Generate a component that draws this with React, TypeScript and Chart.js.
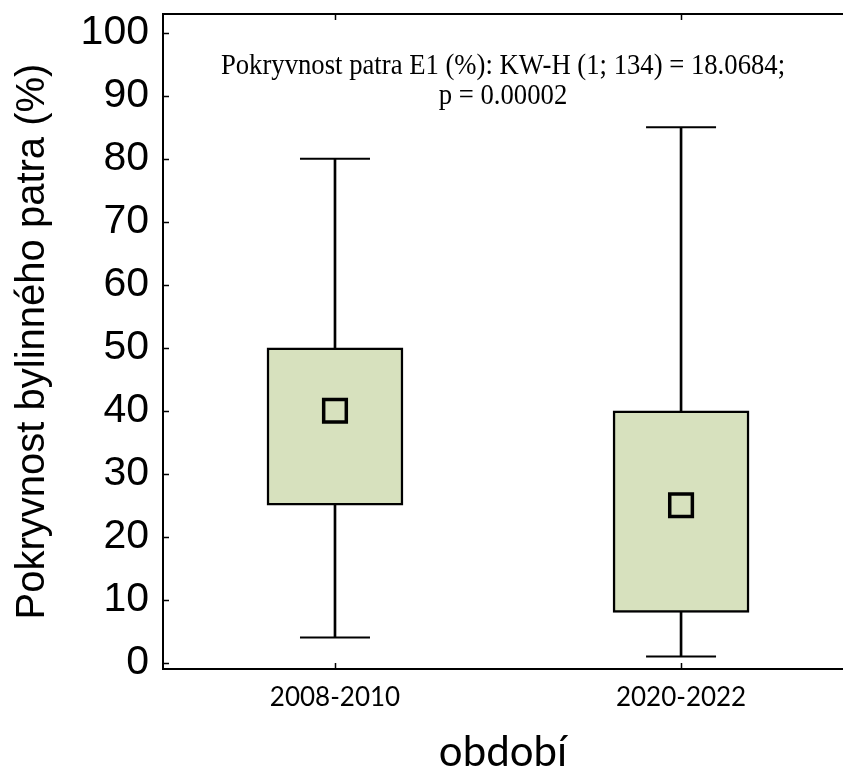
import React, { useEffect, useRef } from 'react';
import { Chart, registerables } from 'chart.js';

Chart.register(...registerables);

// ---- data ----
const categories = ['2008-2010', '2020-2022'];
const positions = [1, 2];
const boxLow = [25, 8];
const boxHigh = [50, 40];
const whiskerMin = [4, 1];
const whiskerMax = [80, 85];
const centerValue = [40, 25];
const yTicks = [0, 10, 20, 30, 40, 50, 60, 70, 80, 90, 100];
const annotationLines = [
  'Pokryvnost patra E1 (%): KW-H (1; 134) = 18.0684;',
  'p = 0.00002',
];
const yTitle = 'Pokryvnost bylinného patra (%)';
const xTitle = 'období';

const BOX_FILL = 'rgb(215, 225, 190)';

const framePlugin = {
  id: 'framePlugin',
  afterDraw(chart: any) {
    const { ctx, chartArea, scales } = chart;
    const xs = scales.x;
    const ys = scales.y;
    ctx.save();
    ctx.strokeStyle = '#000';
    ctx.lineWidth = 2;
    ctx.beginPath();
    ctx.moveTo(chartArea.left, chartArea.top);
    ctx.lineTo(chartArea.right, chartArea.top);
    ctx.stroke();
    ctx.lineWidth = 1.5;
    ctx.beginPath();
    ys.ticks.forEach((t: any) => {
      const y = Math.round(ys.getPixelForValue(t.value)) + 0.5;
      ctx.moveTo(chartArea.left, y);
      ctx.lineTo(chartArea.left + 6, y);
    });
    xs.ticks.forEach((t: any) => {
      const x = Math.round(xs.getPixelForValue(t.value)) + 0.5;
      ctx.moveTo(x, chartArea.bottom);
      ctx.lineTo(x, chartArea.bottom - 6);
      ctx.moveTo(x, chartArea.top);
      ctx.lineTo(x, chartArea.top + 6);
    });
    ctx.stroke();

    // annotation text
    const cx = (chartArea.left + chartArea.right) / 2;
    ctx.fillStyle = '#000';
    ctx.textAlign = 'center';
    ctx.textBaseline = 'middle';
    ctx.font = '29px "Liberation Serif", "Times New Roman", serif';
    const sx = 0.92;
    annotationLines.forEach((line, i) => {
      ctx.save();
      ctx.translate(cx, chartArea.top + 52 + i * 30);
      ctx.scale(sx, 1);
      ctx.fillText(line, 0, 0);
      ctx.restore();
    });
    ctx.restore();
  },
};

export default function App() {
  const canvasRef = useRef<HTMLCanvasElement | null>(null);

  useEffect(() => {
    const canvas = canvasRef.current;
    if (!canvas) return;

    const chart = new Chart(canvas, {
      type: 'bar',
      data: {
        datasets: [
          {
            type: 'line',
            label: 'center',
            data: positions.map((p, i) => ({ x: p, y: centerValue[i] })),
            showLine: false,
            pointStyle: 'rect',
            pointRadius: 16,
            pointHoverRadius: 16,
            pointBorderWidth: 3.5,
            pointBorderColor: '#000',
            pointBackgroundColor: BOX_FILL,
            order: 0,
          } as any,
          {
            type: 'bar',
            label: 'box',
            data: positions.map((p, i) => ({ x: p, y: [boxLow[i], boxHigh[i]] })),
            backgroundColor: BOX_FILL,
            borderColor: '#000',
            borderWidth: 2.5,
            borderSkipped: false,
            barThickness: 136,
            grouped: false,
            order: 1,
          } as any,
          {
            type: 'bar',
            label: 'whisker',
            data: positions.map((p, i) => ({ x: p, y: [whiskerMin[i], whiskerMax[i]] })),
            backgroundColor: '#000',
            borderWidth: 0,
            barThickness: 2,
            grouped: false,
            order: 2,
          } as any,
          {
            type: 'line',
            label: 'caps',
            data: positions.flatMap((p, i) => [
              { x: p, y: whiskerMin[i] },
              { x: p, y: whiskerMax[i] },
            ]),
            showLine: false,
            pointStyle: 'line',
            pointRadius: 35,
            pointHoverRadius: 35,
            pointBorderWidth: 2,
            pointBorderColor: '#000',
            order: 2,
          } as any,
        ],
      },
      options: {
        animation: false,
        responsive: true,
        maintainAspectRatio: false,
        layout: { autoPadding: false, padding: { top: 14, right: 0, left: 0, bottom: 0 } },
        plugins: {
          legend: { display: false },
          tooltip: { enabled: false },
        },
        scales: {
          x: {
            type: 'linear',
            offset: false,
            min: 0.503,
            max: 2.468,
            afterBuildTicks: (s: any) => {
              s.ticks = positions.map((v) => ({ value: v }));
            },
            afterFit: (s: any) => {
              s.height = 102;
              s.paddingLeft = 0;
              s.paddingRight = 0;
            },
            ticks: {
              callback: (_v: any, i: number) => categories[i],
              font: { family: 'Lato', size: 26 },
              color: '#000',
              padding: 13,
              maxRotation: 0,
            },
            grid: { display: true, offset: false, drawOnChartArea: false, drawTicks: false },
            border: { display: true, color: '#000', width: 2 },
            title: {
              display: true,
              text: xTitle,
              font: { family: 'Lato', size: 42, lineHeight: 0.9 },
              color: '#000',
              padding: 0,
            },
          },
          y: {
            type: 'linear',
            min: -1,
            max: 103,
            afterBuildTicks: (s: any) => {
              s.ticks = yTicks.map((v) => ({ value: v }));
            },
            afterFit: (s: any) => {
              s.width = 163;
              s.paddingTop = 0;
              s.paddingBottom = 0;
            },
            ticks: {
              font: { family: 'Liberation Sans', size: 41 },
              color: '#000',
              padding: 14,
            },
            grid: { display: true, drawOnChartArea: false, drawTicks: false },
            border: { display: true, color: '#000', width: 2 },
            title: {
              display: true,
              text: yTitle,
              font: { family: 'Liberation Sans', size: 40, lineHeight: 1.2 },
              color: '#000',
              padding: { top: 9, bottom: 0 },
            },
          },
        },
      } as any,
      plugins: [framePlugin],
    });

    return () => chart.destroy();
  }, []);

  return (
    <div style={{ position: 'absolute', left: 0, top: 0, width: 843, height: 771, background: '#fff' }}>
      <canvas ref={canvasRef} />
    </div>
  );
}
